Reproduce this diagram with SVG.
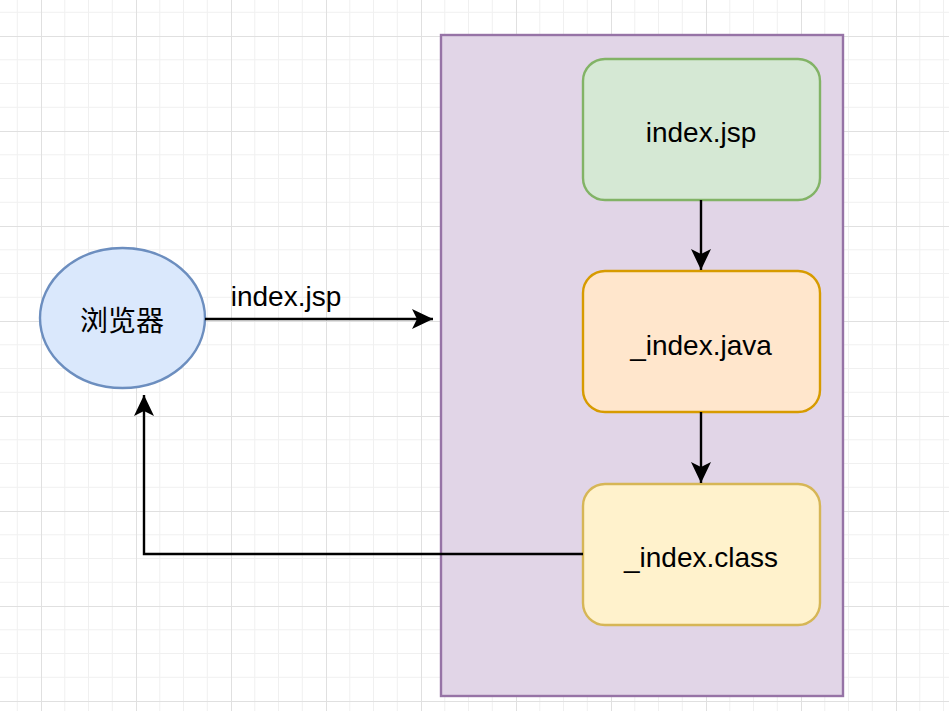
<svg xmlns="http://www.w3.org/2000/svg" width="949" height="711" viewBox="0 0 949 711">
  <defs>
    <pattern id="grid" patternUnits="userSpaceOnUse" x="41" y="36" width="95" height="95">
      <path d="M23.75,0V95M47.5,0V95M71.25,0V95M0,23.75H95M0,47.5H95M0,71.25H95" stroke="#f0f0f0" stroke-width="1" fill="none"/>
      <path d="M0.5,0V95M0,0.5H95" stroke="#e0e0e0" stroke-width="1" fill="none"/>
    </pattern>
    <marker id="arrow" markerUnits="userSpaceOnUse" viewBox="0 0 21 20" refX="21" refY="10" markerWidth="21" markerHeight="20" orient="auto">
      <path d="M0,0 L21,10 L0,20 L5,10 Z" fill="#000"/>
    </marker>
    <style>
      .t { font-family: "Liberation Sans", Arial, "Noto Sans CJK SC", sans-serif; font-size: 28px; fill: #000; }
      .c { text-anchor: middle; }
      .edge { fill: none; stroke: #000; stroke-width: 2.4; }
      .box { stroke-width: 2.4; }
    </style>
  </defs>
  <rect width="949" height="711" fill="#ffffff"/>
  <rect width="949" height="711" fill="url(#grid)"/>

  <g id="container">
    <rect x="441" y="35" width="402" height="661" fill="#e1d5e7" stroke="#9673a6" stroke-width="2.4"/>
  </g>

  <g id="browser">
    <ellipse cx="122.5" cy="318" rx="82.5" ry="70" fill="#dae8fc" stroke="#6c8ebf" stroke-width="2.4"/>
    <text class="t c" x="122" y="331">浏览器</text>
  </g>

  <g id="index-jsp">
    <rect class="box" x="583" y="59" width="237" height="141" rx="22" ry="22" fill="#d5e8d4" stroke="#82b366"/>
    <text class="t c" x="701" y="142">index.jsp</text>
  </g>

  <g id="index-java">
    <rect class="box" x="583" y="271" width="237" height="141" rx="22" ry="22" fill="#ffe6cc" stroke="#d79b00"/>
    <text class="t c" x="701" y="355">_index.java</text>
  </g>

  <g id="index-class">
    <rect class="box" x="583" y="484" width="237" height="141" rx="22" ry="22" fill="#fff2cc" stroke="#d6b656"/>
    <text class="t c" x="701" y="567">_index.class</text>
  </g>

  <g id="connectors">
    <path class="edge" d="M205,319 H433" marker-end="url(#arrow)"/>
    <text class="t c" x="286" y="306">index.jsp</text>
    <path class="edge" d="M701,200 V270" marker-end="url(#arrow)"/>
    <path class="edge" d="M701,412 V483" marker-end="url(#arrow)"/>
    <path class="edge" d="M583,554 H144 V395" marker-end="url(#arrow)"/>
  </g>
</svg>
